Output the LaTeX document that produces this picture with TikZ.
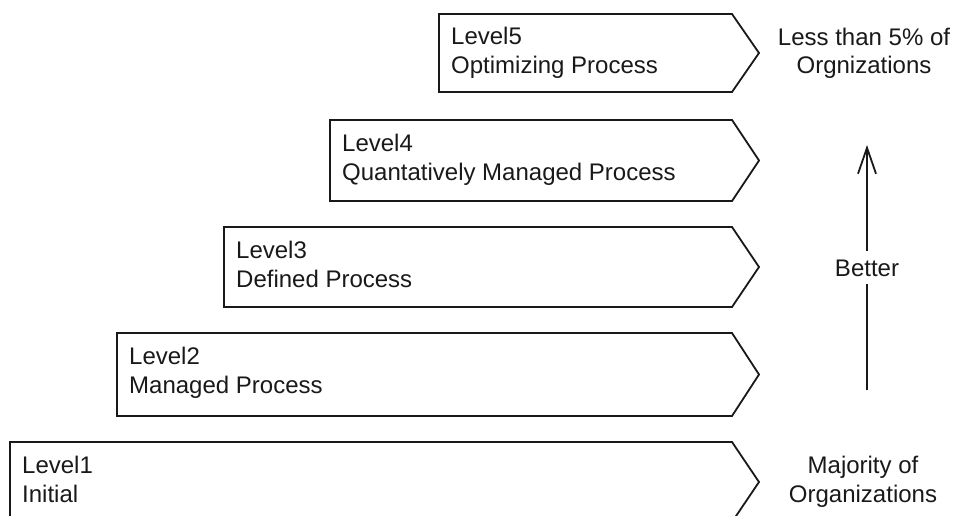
\documentclass[tikz,border=0pt]{standalone}
\usepackage{fontspec}
\setmainfont{Liberation Sans}
\usetikzlibrary{arrows.meta}
\begin{document}
\begin{tikzpicture}[x=1pt,y=-1pt,
  lvlbox/.style={draw=black!90,line width=1.8pt,line join=miter},
  lbl/.style={anchor=base west,inner sep=0pt,font=\fontsize{24}{29}\selectfont,text=black!90},
  side/.style={anchor=base,inner sep=0pt,font=\fontsize{24}{29}\selectfont,text=black!90},
  conn/.style={line width=1.8pt,draw=black!90}]
\useasboundingbox (0,0) rectangle (955,516);
% boxes: left, top, bottom
\foreach \nm/\l/\t/\b/\ta/\tb in {5/439/14/92/Level5/Optimizing Process,
                                   4/330/120/201/Level4/Quantatively Managed Process,
                                   3/224/227/307/Level3/Defined Process,
                                   2/117/333/416/Level2/Managed Process,
                                   1/10/442/522/Level1/Initial}{
  \draw[lvlbox] (\l,\t) -- (732,\t) -- (759,{(\t+\b)/2}) -- (732,\b) -- (\l,\b) -- cycle;
  \node[lbl] (t\nm a) at ({\l+12},{\t+31}) {\ta};
  \node[lbl] (t\nm b) at ({\l+12},{\t+60}) {\tb};
}
\node[side] (top1) at (864,46) {Less than 5\% of};
\node[side] (top2) at (864,74) {Orgnizations};
\node[side] (bot1) at (863,473) {Majority of};
\node[side] (bot2) at (863,502) {Organizations};
\node[side,text height=17pt,text depth=0pt,inner ysep=8pt] (better) at (867,276) {Better};
\coordinate (arrbot) at (867,390);
\coordinate (arrtop) at (867,145);
\draw[conn] (arrbot) -- (better.south);
\draw[conn,-{Straight Barb[length=26pt,width=18pt,line width=1.8pt]}] (better.north) -- (arrtop);
\end{tikzpicture}
\end{document}
